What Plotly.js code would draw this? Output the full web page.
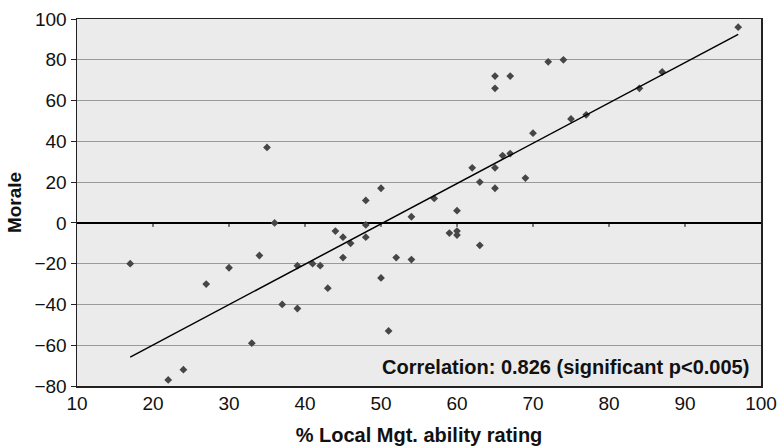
<!DOCTYPE html>
<html>
<head>
<meta charset="utf-8">
<script src="https://cdn.plot.ly/plotly-3.0.1.min.js"></script>
<style>html,body{margin:0;padding:0;background:#fff}#chart{width:778px;height:448px}</style>
</head>
<body>
<div id="chart"></div>
<script>
// % Local Mgt. ability rating
const abilityX = [17,22,24,27,30,33,34,35,36,37,39,39,41,42,43,44,45,45,46,48,48,48,50,50,51,52,54,54,57,59,60,60,60,62,63,63,65,65,65,65,66,67,67,69,70,72,74,75,77,84,87,97];
// Morale
const moraleY = [-20,-77,-72,-30,-22,-59,-16,37,0,-40,-21,-42,-20,-21,-32,-4,-7,-17,-10,11,-1,-7,17,-27,-53,-17,3,-18,12,-5,6,-4,-6,27,20,-11,72,66,27,17,33,34,72,22,44,79,80,51,53,66,74,96];
// Trend line endpoints
const trendX = [17, 97];
const trendY = [-65.8, 92.5];
const xTicks = [10,20,30,40,50,60,70,80,90,100];
const yTicks = [-80,-60,-40,-20,0,20,40,60,80,100];
const noteText = 'Correlation: 0.826 (significant p<0.005)';

const font = 'Liberation Sans, Arial, Helvetica, sans-serif';

const traces = [
  {x: abilityX, y: moraleY, type: 'scatter', mode: 'markers',
   marker: {symbol: 'diamond', size: 6, color: '#464646'}, hoverinfo: 'x+y'},
  {x: trendX, y: trendY, type: 'scatter', mode: 'lines',
   line: {color: '#000', width: 1.5}}
];

const shapes = xTicks.slice(1, -1).map(v => ({
  type: 'line', xref: 'x', yref: 'y', ysizemode: 'pixel', yanchor: 0,
  x0: v, x1: v, y0: 0, y1: -4, line: {color: '#000', width: 1}
}));

const layout = {
  width: 778, height: 448,
  margin: {l: 76.5, r: 16.5, t: 19, b: 62.3},
  paper_bgcolor: '#fff', plot_bgcolor: '#ebebeb',
  showlegend: false,
  font: {family: font, size: 19, color: '#111'},
  xaxis: {
    range: [10, 100], tickvals: xTicks, ticktext: xTicks.map(String),
    showgrid: false, zeroline: false, ticks: '',
    showline: true, linecolor: '#222', linewidth: 1.5, mirror: true,
    tickfont: {size: 19}, ticklabelstandoff: 0,
    title: {text: '% Local Mgt. ability rating', font: {size: 20, weight: 'bold'}, standoff: 14}
  },
  yaxis: {
    range: [-80, 100], tickvals: yTicks, ticktext: yTicks.map(v => v < 0 ? '\u2212' + Math.abs(v) : String(v)),
    showgrid: true, gridcolor: '#9a9a9a', gridwidth: 1,
    zeroline: true, zerolinecolor: '#000', zerolinewidth: 1.5,
    ticks: 'outside', ticklen: 5, tickcolor: '#222', tickwidth: 1,
    showline: true, linecolor: '#222', linewidth: 1.5, mirror: true,
    tickfont: {size: 19},
    title: {text: 'Morale', font: {size: 19, weight: 'bold'}, standoff: 8}
  },
  shapes: shapes,
  annotations: [{
    xref: 'paper', yref: 'paper', x: 0.986, y: 0.052, xanchor: 'right', yanchor: 'middle',
    text: noteText, showarrow: false, font: {size: 20, weight: 'bold', color: '#111'}
  }]
};

Plotly.newPlot('chart', traces, layout, {displayModeBar: false, staticPlot: true});
</script>
</body>
</html>
